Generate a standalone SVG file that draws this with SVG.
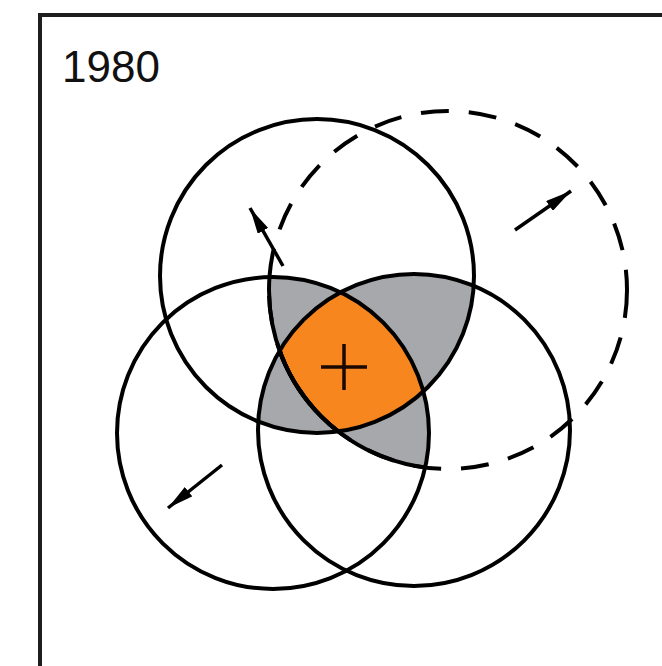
<svg xmlns="http://www.w3.org/2000/svg" width="662" height="666" viewBox="0 0 662 666">
<style>
.ring{fill:none;stroke:#000;stroke-width:4}
.dash{fill:none;stroke:#000;stroke-width:4;stroke-dasharray:28 20}
.gray{fill:#a6a8ab}
.orange{fill:#f7861e}
.arr{stroke:#000;stroke-width:3.5;fill:none}
.lbl{font-family:"Liberation Sans",Arial,sans-serif;font-size:44px;fill:#111}
</style>
<defs>
<clipPath id="cA"><circle cx="317" cy="276" r="157"/></clipPath>
<clipPath id="cB"><circle cx="273" cy="433" r="156"/></clipPath>
<clipPath id="cC"><circle cx="414" cy="430" r="156"/></clipPath>
<marker id="ah" viewBox="0 0 10 10" refX="10" refY="5" markerWidth="7.5" markerHeight="3.4" orient="auto" markerUnits="strokeWidth" preserveAspectRatio="none">
<path d="M0,0 L10,5 L0,10 z" fill="#000"/>
</marker>
</defs>
<rect width="662" height="666" fill="#fff"/>
<g id="frame">
<path d="M40,666 L40,15 L662,15" fill="none" stroke="#1e1e1e" stroke-width="4"/>
</g>
<g id="fills">
<g clip-path="url(#cA)"><g clip-path="url(#cB)"><circle class="gray" cx="414" cy="430" r="156"/></g></g>
<g clip-path="url(#cA)"><g clip-path="url(#cB)"><circle class="gray" cx="448" cy="290" r="179"/></g></g>
<g clip-path="url(#cA)"><g clip-path="url(#cC)"><circle class="gray" cx="448" cy="290" r="179"/></g></g>
<g clip-path="url(#cB)"><g clip-path="url(#cC)"><circle class="gray" cx="448" cy="290" r="179"/></g></g>
<g clip-path="url(#cA)"><g clip-path="url(#cB)"><g clip-path="url(#cC)"><circle class="orange" cx="448" cy="290" r="179"/></g></g></g>
</g>
<g id="circle-top"><circle class="ring" cx="317" cy="276" r="157"/></g>
<g id="circle-left"><circle class="ring" cx="273" cy="433" r="156"/></g>
<g id="circle-right"><circle class="ring" cx="414" cy="430" r="156"/></g>
<g id="circle-dashed">
<circle class="dash" cx="448" cy="290" r="179"/>
<g clip-path="url(#cA)"><g clip-path="url(#cB)"><circle class="ring" cx="448" cy="290" r="179"/></g></g>
<g clip-path="url(#cA)"><g clip-path="url(#cC)"><circle class="ring" cx="448" cy="290" r="179"/></g></g>
<g clip-path="url(#cB)"><g clip-path="url(#cC)"><circle class="ring" cx="448" cy="290" r="179"/></g></g>
</g>
<g id="center-mark">
<path d="M321,367 L367,367 M344,344 L344,390" stroke="#1a0800" stroke-width="3.5" fill="none"/>
</g>
<g id="connectors">
<line class="arr" x1="283" y1="266" x2="250" y2="208" marker-end="url(#ah)"/>
<line class="arr" x1="515" y1="230" x2="571" y2="191" marker-end="url(#ah)"/>
<line class="arr" x1="222" y1="465" x2="168" y2="508" marker-end="url(#ah)"/>
</g>
<g id="label"><text class="lbl" x="62" y="82">1980</text></g>
</svg>
